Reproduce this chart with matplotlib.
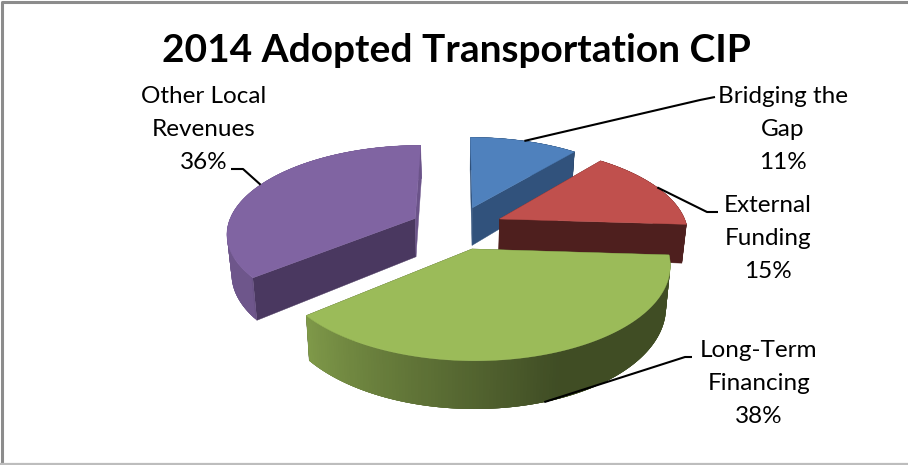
import numpy as np
import matplotlib
matplotlib.use("Agg")
import matplotlib.pyplot as plt
from matplotlib.collections import PolyCollection

plt.rcParams['font.family'] = ['Lato', 'DejaVu Sans']

# ---- data
title = "2014 Adopted Transportation CIP"
categories = ["Bridging the\nGap", "External\nFunding", "Long-Term\nFinancing", "Other Local\nRevenues"]
values = [11, 15, 38, 36]

# ---- style
top_colors = ["#4F81BD", "#C0504D", "#9BBB59", "#8064A2"]
face_colors = ["#31527C", "#4E1F1E", "#3F4C22", "#4A3860"]
label_centres = [(783, 96), (768, 205), (759, 350), (204, 96)]
leader_knees = [[(715, 97), (700, 100)], [(718, 212), (707, 212)], [(692, 357), (685, 357)], [(231, 169), (243, 169)]]
LINE_STEP = 33
CX, CY, A, B, K = 457, 227.5, 188, 87, 0.155
DEPTH, SHRINK, EXPLODE = 39, 0.98, 0.25


def project(X, Y, down=False):
    w = 1 + K * Y
    s = SHRINK if down else 1.0
    return CX + A * s * X / w, CY - B * Y / w + (DEPTH / w if down else 0)


def shade(deg):
    t = np.clip((230 - deg) / 72.0, 0, 1)
    return np.where(deg > 231, 0.86, 0.82 - 0.41 * t)


def draw_rim(ax, degs, X, Y, base, z):
    """Side of the slice: an underlay plus overlapping strips so no seams show."""
    if len(degs) < 2:
        return
    tx, ty = project(X, Y)
    bx, by = project(X, Y, True)
    cols = [np.clip(base * shade(d), 0, 1) for d in degs]
    ax.fill(np.r_[tx, bx[::-1]], np.r_[ty, by[::-1]], color=np.mean(cols, axis=0), lw=0, zorder=z)
    quads = []
    for j in range(len(degs) - 1):
        k = min(j + 3, len(degs) - 1)
        quads.append([(tx[j], ty[j]), (tx[k], ty[k]), (bx[k], by[k]), (bx[j], by[j])])
    ax.add_collection(PolyCollection(quads, facecolors=cols[:-1], edgecolors="none", zorder=z + 0.01))


fig = plt.figure(figsize=(9.08, 4.65), dpi=100)
ax = fig.add_axes([0, 0, 1, 1])
ax.set_xlim(0, 908)
ax.set_ylim(465, 0)
ax.axis("off")

ax.plot([1.5, 1.5, 908], [465, 2, 2], color="#8c8c8c", lw=2.2, solid_capstyle="butt")
ax.plot([0, 908], [464, 464], color="#bdbdbd", lw=1.6)

shares = np.array(values, float) / sum(values)
edges = np.concatenate([[0], np.cumsum(shares)]) * 360
order = [0, 3, 1, 2]
for rank, i in enumerate(order):
    z = 2 + rank
    d0, d1 = edges[i], edges[i + 1]
    mid = np.radians((d0 + d1) / 2)
    ox, oy = EXPLODE * np.sin(mid), EXPLODE * np.cos(mid)
    degs = np.linspace(d0, d1, 160)
    th = np.radians(degs)
    X, Y = ox + np.sin(th), oy + np.cos(th)
    tx, ty = project(X, Y)
    bx, by = project(X, Y, True)
    ax0, ay0 = project(np.array([ox]), np.array([oy]))
    bx0, by0 = project(np.array([ox]), np.array([oy]), True)
    base = np.array(matplotlib.colors.to_rgb(top_colors[i]))

    front = (degs >= 90) & (degs <= 270)
    # back part of the rim, then radial faces, then front part, then the top
    draw_rim(ax, degs[~front], X[~front], Y[~front], base, z)
    for end in (0, -1):
        col = "#6B5389" if (i == 3 and end == -1) else face_colors[i]
        poly = [(ax0[0], ay0[0]), (tx[end], ty[end]), (bx[end], by[end]), (bx0[0], by0[0])]
        ax.fill(*zip(*poly), color=col, lw=0.3, zorder=z + 0.1)
    draw_rim(ax, degs[front], X[front], Y[front], base, z + 0.2)
    ax.fill(np.r_[ax0, tx], np.r_[ay0, ty], color=top_colors[i], lw=0.3, zorder=z + 0.5)

    # leader anchored on the rim at the slice's mid-angle
    mx, my = ox + np.sin(mid), oy + np.cos(mid)
    a = project(np.array([mx]), np.array([my]), down=(i == 2))
    lab = categories[i].split("\n") + [f"{values[i]}%"]
    xc, yc = label_centres[i]
    for n, line in enumerate(lab):
        ax.text(xc, yc + n * LINE_STEP, line, ha="center", va="center", fontsize=17.5, color="black", zorder=10)
    kn = leader_knees[i]
    ax.plot([kn[0][0], kn[1][0], a[0][0]], [kn[0][1], kn[1][1], a[1][0]], color="black", lw=1.5, zorder=9,
            solid_capstyle="butt")

ax.text(456, 51, title, ha="center", va="center", fontsize=28, fontweight="bold", color="black")
fig.savefig("out.png", dpi=100)
